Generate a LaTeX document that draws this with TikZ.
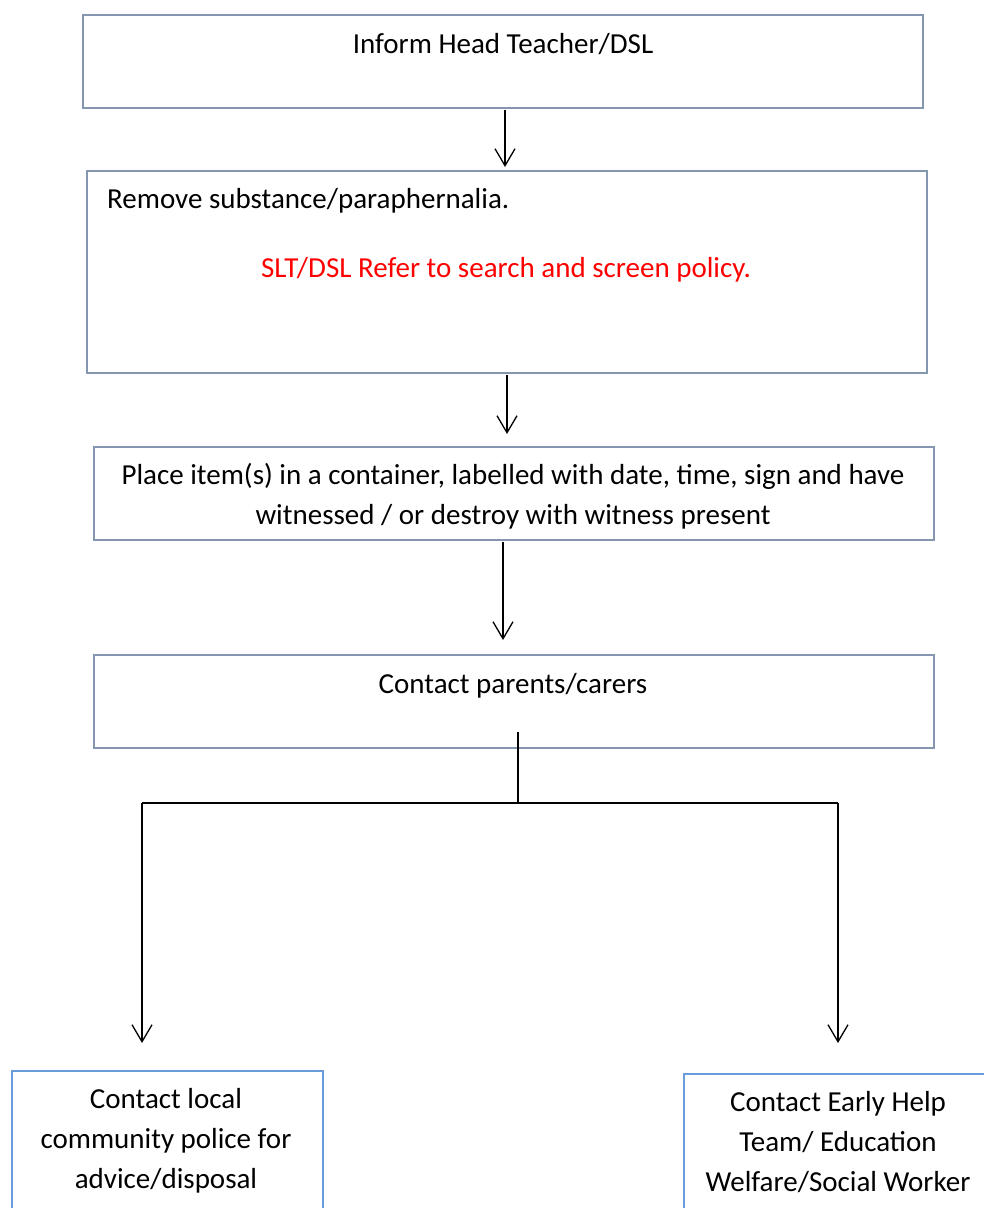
\documentclass[tikz,border=0pt]{standalone}
\usepackage{fontspec}
\setmainfont{Carlito}
\usetikzlibrary{arrows.meta}
\definecolor{boxgray}{HTML}{8496B0}
\definecolor{boxblue}{HTML}{6A9CDA}
\definecolor{txtred}{HTML}{FF0000}
\tikzset{
  x=1pt, y=-1pt,
  flowbox/.style={draw=boxgray, line width=2pt},
  openbox/.style={draw=boxblue, line width=2pt},
  txt/.style={font=\fontsize{29}{40}\selectfont, inner sep=0pt, align=center},
  link/.style={draw=black, line width=1.4pt},
  arr/.style={link, -{Straight Barb[length=17pt, width=20pt, line width=1.3pt]}}
}
\begin{document}
\begin{tikzpicture}
\useasboundingbox (0,0) rectangle (984,1208);
% boxes
\node[flowbox, minimum width=840pt, minimum height=93pt, inner sep=0pt] (b1) at (503,61.5) {};
\node[flowbox, minimum width=840pt, minimum height=202pt, inner sep=0pt] (b2) at (507,272) {};
\node[flowbox, minimum width=840pt, minimum height=93pt, inner sep=0pt] (b3) at (514,493.5) {};
\node[flowbox, minimum width=840pt, minimum height=93pt, inner sep=0pt] (b4) at (514,701.5) {};
% texts
\node[txt, anchor=base] (t1) at (503,53) {Inform Head Teacher/DSL};
\node[txt, anchor=base west] (t2) at (107,208) {Remove substance/paraphernalia.};
\node[txt, anchor=base, text=txtred] (t2r) at (506,277) {SLT/DSL Refer to search and screen policy.};
\node[txt, anchor=base] (t3a) at (513,484) {Place item(s) in a container, labelled with date, time, sign and have};
\node[txt, anchor=base] (t3b) at (513,524) {witnessed / or destroy with witness present};
\node[txt, anchor=base] (t4) at (513,693) {Contact parents/carers};
% bottom boxes (cut by page edge)
\draw[openbox] (12,1212) |- (323,1071) -- (323,1212);
\draw[openbox] (684,1212) |- (988,1074);
\node[txt, anchor=base] (t5a) at (166,1108) {Contact local};
\node[txt, anchor=base] (t5b) at (166,1148) {community police for};
\node[txt, anchor=base] (t5c) at (166,1188) {advice/disposal};
\node[txt, anchor=base] (t6a) at (838,1111) {Contact Early Help};
\node[txt, anchor=base] (t6b) at (838,1151) {Team/ Education};
\node[txt, anchor=base] (t6c) at (838,1191) {Welfare/Social Worker};
% connectors
\coordinate (a1s) at (505,110); \coordinate (a1e) at (505,167);
\coordinate (a2s) at (507,375); \coordinate (a2e) at (507,434);
\coordinate (a3s) at (503,542); \coordinate (a3e) at (503,640);
\coordinate (sp) at (518,732); \coordinate (jn) at (518,803);
\coordinate (lt) at (142,803); \coordinate (rt) at (838,803);
\coordinate (le) at (142,1043); \coordinate (re) at (838,1043);
\draw[arr] (a1s) -- (a1e);
\draw[arr] (a2s) -- (a2e);
\draw[arr] (a3s) -- (a3e);
\draw[link] (sp) -- (jn);
\draw[link] (lt) -- (rt);
\draw[arr] (lt) -- (le);
\draw[arr] (rt) -- (re);
\end{tikzpicture}
\end{document}
